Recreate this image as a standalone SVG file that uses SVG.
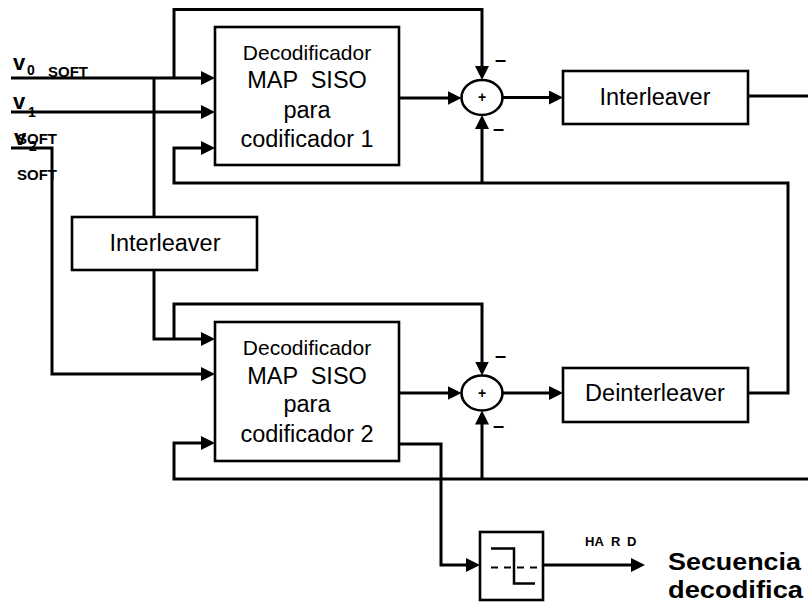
<svg xmlns="http://www.w3.org/2000/svg" width="808" height="602" viewBox="0 0 808 602">
  <style>
    text { font-family: "Liberation Sans", Arial, sans-serif; fill: #000; }
    .blk { fill: #fff; stroke: #000; stroke-width: 2.6; }
    .wire { fill: none; stroke: #000; stroke-width: 3; stroke-linejoin: miter; }
    .arr { marker-end: url(#ah); }
    .big { font-size: 23.5px; text-anchor: middle; }
    .dec { font-size: 21px; text-anchor: middle; }
    .lbl { font-weight: bold; }
    .sgn { font-size: 20px; font-weight: bold; text-anchor: middle; }
  </style>
  <defs>
    <marker id="ah" markerUnits="userSpaceOnUse" markerWidth="14" markerHeight="14" refX="10" refY="7" orient="auto">
      <path d="M0,0 L14,7 L0,14 z" fill="#000"/>
    </marker>
  </defs>

  <rect width="808" height="602" fill="#fff"/>

  <!-- connectors -->
  <g id="connectors">
    <!-- soft inputs -->
    <path class="wire arr" d="M11,78 H211"/>
    <path class="wire arr" d="M11,112 H211"/>
    <path class="wire arr" d="M11,148 H52 V374 H211"/>
    <!-- systematic input to the interleaver and the upper adder -->
    <path class="wire" d="M154,78 V217"/>
    <path class="wire arr" d="M174,78 V9.5 H482 V76"/>
    <!-- interleaved systematic input to decoder 2 and lower adder -->
    <path class="wire arr" d="M154,270 V339 H211"/>
    <path class="wire arr" d="M174,339 V304 H482 V371.5"/>
    <!-- a-priori feedback into decoder 1 (from deinterleaver) -->
    <path class="wire arr" d="M748,393 H788 V183 H174 V148 H211"/>
    <path class="wire arr" d="M482,183 V119"/>
    <!-- decoder 1 through adder to interleaver -->
    <path class="wire arr" d="M399,98 H457.5"/>
    <path class="wire arr" d="M502.5,97.5 H559"/>
    <path class="wire" d="M748,96 H808"/>
    <!-- a-priori feedback into decoder 2 -->
    <path class="wire arr" d="M808,479 H174 V443 H211"/>
    <path class="wire arr" d="M482,479 V414.5"/>
    <!-- decoder 2 through adder to deinterleaver -->
    <path class="wire arr" d="M399,393 H457.5"/>
    <path class="wire arr" d="M502.5,393 H559"/>
    <!-- decoder 2 output to hard decision -->
    <path class="wire arr" d="M399,444 H441 V565 H476"/>
    <path class="wire arr" d="M543,565 H641"/>
  </g>

  <!-- input labels -->
  <g id="inputs">
    <text class="lbl" x="13" y="69.5" font-size="22">v</text>
    <text class="lbl" x="27" y="75" font-size="14">0</text>
    <text class="lbl" x="48" y="76.5" font-size="15">SOFT</text>
    <text class="lbl" x="13" y="109" font-size="22">v</text>
    <text class="lbl" x="28" y="117" font-size="14">1</text>
    <text class="lbl" x="14" y="145" font-size="22">v</text>
    <text class="lbl" x="29" y="151" font-size="14">2</text>
    <text class="lbl" x="17" y="143.5" font-size="15">SOFT</text>
    <text class="lbl" x="17" y="180" font-size="15">SOFT</text>
  </g>

  <g id="dec1">
    <rect class="blk" x="215" y="27" width="184" height="138"/>
    <text class="dec" x="307" y="59.5">Decodificador</text>
    <text class="big" x="307" y="88" xml:space="preserve">MAP  SISO</text>
    <text class="big" x="307" y="118">para</text>
    <text class="big" x="307" y="147">codificador 1</text>
  </g>

  <g id="dec2">
    <rect class="blk" x="215" y="322" width="184" height="139"/>
    <text class="dec" x="307" y="355">Decodificador</text>
    <text class="big" x="307" y="383.5" xml:space="preserve">MAP  SISO</text>
    <text class="big" x="307" y="412">para</text>
    <text class="big" x="307" y="442">codificador 2</text>
  </g>

  <g id="interleaver-in">
    <rect class="blk" x="72" y="217" width="185" height="53"/>
    <text class="big" x="165" y="251">Interleaver</text>
  </g>

  <g id="sum1">
    <ellipse class="blk" cx="482" cy="97.5" rx="20.5" ry="17.5"/>
    <text class="lbl" x="482" y="102" font-size="14" text-anchor="middle">+</text>
    <text class="sgn" x="500.5" y="66">–</text>
    <text class="sgn" x="498.5" y="135">–</text>
  </g>

  <g id="sum2">
    <ellipse class="blk" cx="482" cy="393" rx="20.5" ry="17.5"/>
    <text class="lbl" x="482" y="397.5" font-size="14" text-anchor="middle">+</text>
    <text class="sgn" x="500.5" y="362">–</text>
    <text class="sgn" x="498.5" y="432">–</text>
  </g>

  <g id="interleaver">
    <rect class="blk" x="563" y="71" width="185" height="53"/>
    <text class="big" x="655" y="105">Interleaver</text>
  </g>

  <g id="deinterleaver">
    <rect class="blk" x="563" y="368" width="185" height="54"/>
    <text class="big" x="655" y="401">Deinterleaver</text>
  </g>

  <g id="hard-decision">
    <rect class="blk" x="480" y="532" width="63" height="68"/>
    <path d="M491,548.5 H514 V583.5 H535" fill="none" stroke="#000" stroke-width="2.5"/>
    <path d="M491,567.5 H539" fill="none" stroke="#000" stroke-width="2" stroke-dasharray="7 6"/>
  </g>

  <g id="output">
    <text class="lbl" y="545.5" font-size="13"><tspan x="585">HA</tspan><tspan x="611">R</tspan><tspan x="627">D</tspan></text>
    <text class="lbl" x="668" y="569.5" font-size="23" textLength="133" lengthAdjust="spacingAndGlyphs">Secuencia</text>
    <text class="lbl" x="668" y="598" font-size="23" textLength="135" lengthAdjust="spacingAndGlyphs">decodifica</text>
  </g>
</svg>
